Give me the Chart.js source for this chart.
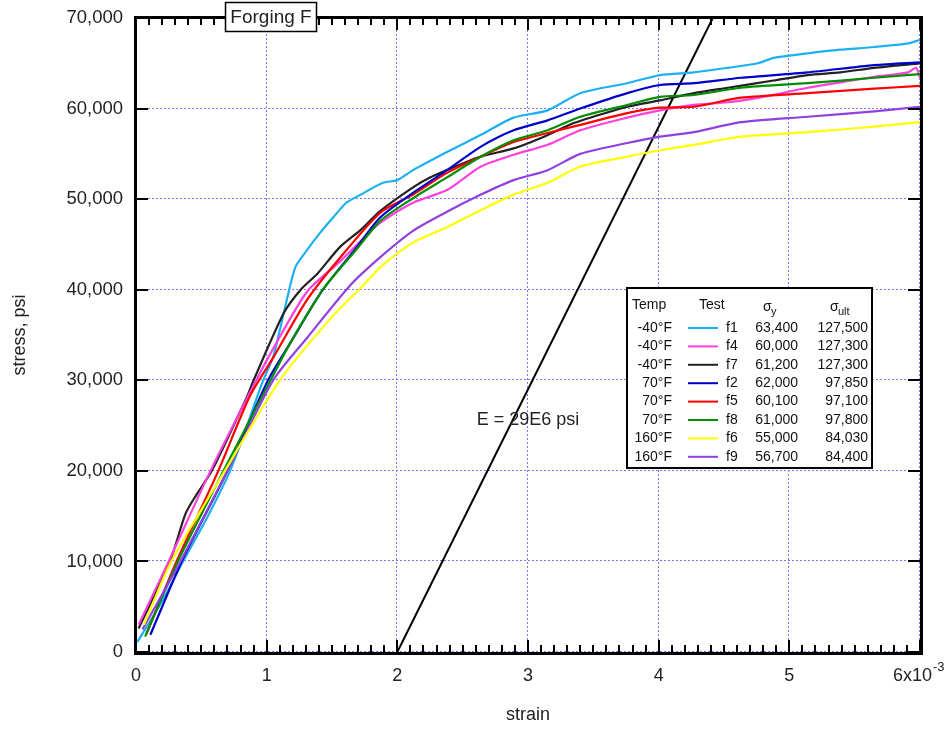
<!DOCTYPE html>
<html>
<head>
<meta charset="utf-8">
<script src="https://cdn.jsdelivr.net/npm/chart.js@4.4.1/dist/chart.umd.min.js"></script>
<style>
  html, body { margin: 0; padding: 0; background: #fff; }
  canvas { display: block; }
</style>
</head>
<body>
<canvas id="chart" width="949" height="729"></canvas>
<script>
const FONT = 'Arial, "Liberation Sans", sans-serif'

// strain in units of 1e-3, stress in psi
const f1Strain = [0.01, 0.2, 0.36, 0.55, 0.72, 0.85, 0.96, 1.05, 1.1, 1.14, 1.22, 1.31, 1.41, 1.51, 1.61, 1.72, 1.89, 2.0, 2.12, 2.38, 2.64, 2.89, 3.15, 3.4, 3.76, 4.01, 4.27, 4.53, 4.76, 4.88, 5.14, 5.39, 5.65, 5.91, 6.0]
const f1Stress = [1100, 5600, 10000, 15000, 20000, 25000, 29500, 32600, 35500, 38000, 42500, 44400, 46300, 48000, 49600, 50500, 51800, 52100, 53200, 55200, 57100, 59000, 59800, 61700, 62800, 63700, 64000, 64500, 65000, 65600, 66100, 66500, 66800, 67200, 67600]

const f4Strain = [0.02, 0.25, 0.57, 0.92, 1.05, 1.31, 1.56, 1.77, 1.87, 2.12, 2.38, 2.64, 2.89, 3.15, 3.4, 3.76, 4.01, 4.27, 4.53, 4.8, 5.14, 5.39, 5.65, 5.91, 5.97, 6.0]
const f4Stress = [3000, 10000, 20000, 30000, 33500, 39800, 43100, 46100, 47400, 49600, 51000, 53600, 54900, 56000, 57600, 59000, 59800, 60400, 60700, 61300, 62300, 62900, 63500, 64000, 64500, 63400]

const f7Strain = [0.02, 0.26, 0.38, 0.46, 0.58, 0.85, 0.9, 1.13, 1.26, 1.39, 1.56, 1.72, 1.87, 2.12, 2.25, 2.51, 2.64, 2.89, 3.09, 3.35, 3.5, 3.76, 4.01, 4.27, 4.53, 4.88, 5.14, 5.39, 5.65, 6.0]
const f7Stress = [2600, 10000, 15300, 17300, 20000, 28200, 30000, 37400, 40000, 41800, 44700, 46600, 48700, 51300, 52400, 54000, 54700, 55600, 56700, 58400, 59100, 60200, 60900, 61700, 62300, 63100, 63700, 64000, 64500, 65000]

const f2Strain = [0.11, 0.35, 0.7, 1.01, 1.18, 1.43, 1.69, 1.87, 2.12, 2.38, 2.64, 2.89, 3.15, 3.4, 3.76, 4.01, 4.27, 4.63, 5.14, 5.65, 6.0]
const f2Stress = [1900, 10000, 20000, 30000, 34100, 40000, 44700, 48000, 50700, 53200, 55800, 57600, 58700, 60000, 61700, 62600, 62800, 63400, 64000, 64800, 65100]

const f5Strain = [0.08, 0.31, 0.63, 0.87, 1.05, 1.31, 1.56, 1.87, 2.12, 2.38, 2.64, 2.89, 3.15, 3.4, 3.76, 4.01, 4.27, 4.63, 5.14, 5.65, 6.0]
const f5Stress = [2000, 10000, 20000, 28200, 32500, 38900, 43500, 48500, 50500, 52900, 54700, 56300, 57300, 58200, 59500, 60100, 60200, 61200, 61700, 62200, 62500]

const f8Strain = [0.07, 0.32, 0.67, 1.03, 1.18, 1.43, 1.69, 1.87, 2.12, 2.38, 2.64, 2.89, 3.15, 3.4, 3.76, 4.01, 4.27, 4.63, 5.14, 5.65, 6.0]
const f8Stress = [1700, 10000, 20000, 30000, 34100, 40000, 44500, 47600, 50100, 52400, 54700, 56500, 57600, 59100, 60400, 61300, 61500, 62300, 62800, 63400, 63800]

const f6Strain = [0.06, 0.27, 0.68, 1.1, 1.5, 1.74, 1.87, 2.12, 2.38, 2.64, 2.89, 3.15, 3.4, 3.76, 4.01, 4.27, 4.63, 5.14, 5.65, 6.0]
const f6Stress = [3000, 10000, 20000, 30000, 37000, 40500, 42500, 45200, 46900, 48800, 50500, 51800, 53600, 54700, 55400, 56000, 56900, 57400, 58000, 58500]

const f9Strain = [0.05, 0.34, 0.7, 1.05, 1.31, 1.64, 1.87, 2.12, 2.38, 2.64, 2.89, 3.15, 3.4, 3.76, 4.01, 4.27, 4.63, 5.14, 5.65, 6.0]
const f9Stress = [2500, 10000, 20000, 30000, 34700, 40500, 43600, 46500, 48600, 50500, 52100, 53200, 55000, 56200, 56900, 57400, 58500, 59100, 59700, 60200]

// modulus line E = 29E6 psi starting at strain 2e-3
const modStrain = [2.0, 4.414]
const modStress = [0, 70000]

// legend table
const legendTemps = ['-40°F', '-40°F', '-40°F', '70°F', '70°F', '70°F', '160°F', '160°F']
const legendTests = ['f1', 'f4', 'f7', 'f2', 'f5', 'f8', 'f6', 'f9']
const legendYield = ['63,400', '60,000', '61,200', '62,000', '60,100', '61,000', '55,000', '56,700']
const legendUlt = ['127,500', '127,300', '127,300', '97,850', '97,100', '97,800', '84,030', '84,400']

const colors = {
  f1: '#1cb0f0',
  f4: '#ff40dc',
  f7: '#222222',
  f2: '#0000c8',
  f5: '#ff0000',
  f8: '#008f00',
  f6: '#ffff00',
  f9: '#9040e0'
}

const toPts = (xs, ys) => xs.map((x, i) => ({ x: x, y: ys[i] }))

const series = [
  ['f6', f6Strain, f6Stress],
  ['f9', f9Strain, f9Stress],
  ['f8', f8Strain, f8Stress],
  ['f2', f2Strain, f2Stress],
  ['f5', f5Strain, f5Stress],
  ['f4', f4Strain, f4Stress],
  ['f7', f7Strain, f7Stress],
  ['f1', f1Strain, f1Stress]
]

const datasets = series.map(([name, xs, ys]) => ({
  label: name,
  data: toPts(xs, ys),
  borderColor: colors[name],
  borderWidth: 2.2,
  pointRadius: 0,
  tension: 0.25,
  showLine: true,
  fill: false
}))

datasets.push({
  label: 'E',
  data: toPts(modStrain, modStress),
  borderColor: '#000',
  borderWidth: 2,
  pointRadius: 0,
  tension: 0,
  showLine: true
})

const decorations = {
  id: 'decorations',
  beforeDatasetsDraw(chart) {
    const { ctx, chartArea: a, scales: { x, y } } = chart
    ctx.save()
    ctx.strokeStyle = '#7878ff'
    ctx.lineWidth = 1
    ctx.setLineDash([2, 2])
    ctx.beginPath()
    for (let v = 0; v <= 6; v++) {
      const px = Math.round(x.getPixelForValue(v)) - 0.5
      ctx.moveTo(px, a.top)
      ctx.lineTo(px, a.bottom)
    }
    for (let v = 0; v <= 70000; v += 10000) {
      const py = Math.round(y.getPixelForValue(v)) - 0.5
      ctx.moveTo(a.left, py)
      ctx.lineTo(a.right, py)
    }
    ctx.stroke()
    ctx.restore()
  },
  afterDraw(chart) {
    const { ctx, chartArea: a, scales: { x, y } } = chart
    ctx.save()

    // frame
    ctx.strokeStyle = '#000'
    ctx.lineWidth = 3
    ctx.strokeRect(a.left - 0.5, a.top - 0.5, a.right - a.left + 2, a.bottom - a.top + 2)

    // inward ticks
    ctx.lineWidth = 2
    ctx.beginPath()
    for (let i = 0; i <= 60; i++) {
      const px = Math.round(x.getPixelForValue(i / 10))
      const len = i % 10 === 0 ? 12 : 7
      ctx.moveTo(px, a.bottom)
      ctx.lineTo(px, a.bottom - len)
      ctx.moveTo(px, a.top)
      ctx.lineTo(px, a.top + len)
    }
    for (let v = 0; v <= 70000; v += 10000) {
      const py = Math.round(y.getPixelForValue(v))
      ctx.moveTo(a.left, py)
      ctx.lineTo(a.left + 12, py)
      ctx.moveTo(a.right, py)
      ctx.lineTo(a.right - 12, py)
    }
    ctx.stroke()

    // exponent on last x label
    ctx.fillStyle = '#222'
    ctx.font = '18px ' + FONT
    const lbl = '6x10   '
    const px6 = x.getPixelForValue(6)
    const start = px6 - ctx.measureText(lbl).width / 2
    const endTxt = start + ctx.measureText('6x10').width
    ctx.font = '13px ' + FONT
    ctx.textAlign = 'left'
    ctx.textBaseline = 'middle'
    ctx.fillText('-3', endTxt + 1, 667)

    // modulus label
    ctx.font = '18px ' + FONT
    ctx.textAlign = 'center'
    ctx.fillText('E = 29E6 psi', x.getPixelForValue(3.0), y.getPixelForValue(25600))

    // title box
    ctx.fillStyle = '#fff'
    ctx.fillRect(225, 2, 92, 30)
    ctx.strokeStyle = '#000'
    ctx.lineWidth = 1.5
    ctx.strokeRect(225.5, 2.5, 91, 29)
    ctx.fillStyle = '#222'
    ctx.font = '19px ' + FONT
    ctx.textAlign = 'center'
    ctx.fillText('Forging F', 271, 18)

    // legend table
    const bx = 627, by = 288, bw = 245, bh = 180
    ctx.fillStyle = '#fff'
    ctx.fillRect(bx, by, bw, bh)
    ctx.strokeStyle = '#000'
    ctx.lineWidth = 2
    ctx.strokeRect(bx, by, bw, bh)

    ctx.fillStyle = '#111'
    ctx.font = '14px ' + FONT
    ctx.textBaseline = 'middle'
    ctx.textAlign = 'left'
    ctx.fillText('Temp', 632, 305)
    ctx.fillText('Test', 699, 305)
    ctx.fillText('σ', 763, 307)
    ctx.fillText('σ', 830, 307)
    ctx.font = '11px ' + FONT
    ctx.fillText('y', 771, 312)
    ctx.fillText('ult', 838, 312)

    ctx.font = '14px ' + FONT
    for (let i = 0; i < legendTests.length; i++) {
      const ry = 328 + i * 18.4
      ctx.fillStyle = '#111'
      ctx.textAlign = 'right'
      ctx.fillText(legendTemps[i], 672, ry)
      ctx.fillText(legendYield[i], 798, ry)
      ctx.fillText(legendUlt[i], 868, ry)
      ctx.textAlign = 'left'
      ctx.fillText(legendTests[i], 726, ry)
      ctx.strokeStyle = colors[legendTests[i]]
      ctx.lineWidth = 2
      ctx.beginPath()
      ctx.moveTo(688, ry)
      ctx.lineTo(718, ry)
      ctx.stroke()
    }

    ctx.restore()
  }
}

new Chart(document.getElementById('chart'), {
  type: 'scatter',
  data: { datasets: datasets },
  options: {
    responsive: false,
    animation: false,
    layout: { padding: { top: 18, right: 29, left: 0, bottom: 0 } },
    plugins: {
      legend: { display: false },
      tooltip: { enabled: false }
    },
    scales: {
      x: {
        type: 'linear',
        min: 0,
        max: 6,
        afterFit: (s) => {
          s.height = 77
          s.paddingLeft = 0
          s.paddingRight = 0
        },
        grid: { display: false, drawTicks: false },
        border: { display: false },
        ticks: {
          stepSize: 1,
          padding: 13,
          color: '#222',
          font: { size: 18, family: FONT },
          callback: (v) => v === 6 ? '6x10   ' : String(v)
        },
        title: {
          display: true,
          text: 'strain',
          color: '#222',
          font: { size: 18, family: FONT },
          padding: { top: 0, bottom: 3 }
        }
      },
      y: {
        min: 0,
        max: 70000,
        afterFit: (s) => {
          s.width = 136
          s.paddingTop = 0
          s.paddingBottom = 0
        },
        grid: { display: false, drawTicks: false },
        border: { display: false },
        ticks: {
          stepSize: 10000,
          padding: 13,
          color: '#222',
          font: { size: 18.5, family: FONT },
          callback: (v) => v.toLocaleString('en-US')
        },
        title: {
          display: true,
          text: 'stress, psi',
          color: '#222',
          font: { size: 18, family: FONT },
          padding: { top: 9, bottom: 0 }
        }
      }
    }
  },
  plugins: [decorations]
})
</script>
</body>
</html>
